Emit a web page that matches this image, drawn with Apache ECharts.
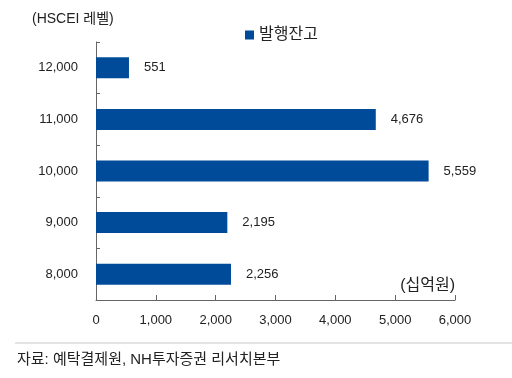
<!DOCTYPE html>
<html><head><meta charset="utf-8">
<script src="https://cdn.jsdelivr.net/npm/echarts@6/dist/echarts.min.js"></script>
<style>html,body{margin:0;padding:0;background:#fff}#c{width:512px;height:378px}</style>
</head><body><div id="c"></div>
<script>
const categories = ['8,000', '9,000', '10,000', '11,000', '12,000'];
const values = [2256, 2195, 5559, 4676, 551];
const seriesName = '발행잔고';
const xTicks = { min: 0, max: 6000, interval: 1000 };

const FONT = '"Liberation Sans", Arial, "Noto Sans CJK KR", sans-serif';
const chart = echarts.init(document.getElementById('c'), null, { renderer: 'canvas' });
chart.setOption({
  animation: false,
  textStyle: { fontFamily: FONT },
  grid: { left: 96, right: 57, top: 42, bottom: 78 },
  legend: {
    data: [seriesName], left: 240, top: 22, icon: 'rect', itemWidth: 9, itemHeight: 9, itemGap: 4,
    textStyle: { fontSize: 16, color: '#222', fontFamily: FONT }
  },
  xAxis: {
    type: 'value', min: xTicks.min, max: xTicks.max, interval: xTicks.interval,
    axisLine: { show: true, lineStyle: { color: '#666', width: 1 } },
    axisTick: { show: true, inside: true, length: 5, lineStyle: { color: '#666' } },
    splitLine: { show: false },
    axisLabel: { margin: 14, fontSize: 13, color: '#222', fontFamily: FONT,
      formatter: v => v.toLocaleString('en-US') }
  },
  yAxis: {
    type: 'category', data: categories,
    axisLine: { show: true, lineStyle: { color: '#666', width: 1 } },
    axisTick: { show: true, inside: true, length: 4, lineStyle: { color: '#666' } },
    axisLabel: { margin: 18, fontSize: 13, color: '#222', fontFamily: FONT }
  },
  series: [{
    name: seriesName, type: 'bar', data: values, barWidth: 21,
    itemStyle: { color: '#004b99' },
    label: { show: true, position: 'right', distance: 15, fontSize: 13, color: '#222', fontFamily: FONT,
      formatter: p => p.value.toLocaleString('en-US') }
  }],
  graphic: [
    { type: 'text', left: 32, top: 12, style: { text: '(HSCEI 레벨)', fontSize: 14, fill: '#222', fontFamily: FONT } },
    { type: 'text', right: 57, top: 278, style: { text: '(십억원)', fontSize: 16, fill: '#222', fontFamily: FONT } },
    { type: 'line', shape: { x1: 15, y1: 343, x2: 512, y2: 343 }, style: { stroke: '#c8c8c8', lineWidth: 1 } },
    { type: 'text', left: 17, top: 352, style: { text: '자료: 예탁결제원, NH투자증권 리서치본부', fontSize: 15, fill: '#222', fontFamily: FONT } }
  ]
});
</script></body></html>
